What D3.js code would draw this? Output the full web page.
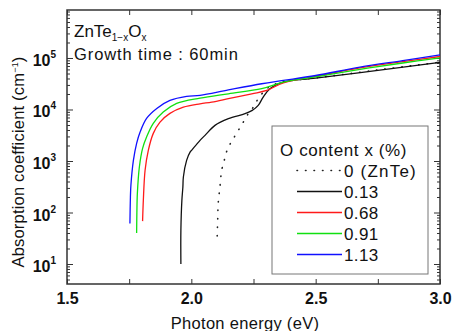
<!DOCTYPE html>
<html>
<head>
<meta charset="utf-8">
<script src="https://cdn.jsdelivr.net/npm/d3@7"></script>
<style>
  body { margin: 0; background: #fff; }
  text { font-family: "Liberation Sans", Arial, sans-serif; fill: #111; }
</style>
</head>
<body>
<script>
// data: [photon energy (eV), absorption coefficient (cm^-1)]
const znte = [[2.104,35],[2.106,71],[2.108,149],[2.115,313],[2.122,660],[2.131,958],[2.139,1390],[2.153,2010],[2.169,2720],[2.189,3940],[2.209,5700],[2.229,8300],[2.249,11100],[2.269,16200],[2.296,23400],[2.323,29300],[2.37,34500],[2.5,41000],[2.75,58500],[3.0,83000]];
const x013 = [[1.958,10],[1.958,45],[1.962,173],[1.966,313],[1.968,490],[1.981,1030],[1.995,1490],[2.001,1610],[2.035,2520],[2.055,3150],[2.095,4920],[2.149,6640],[2.216,8300],[2.245,9600],[2.269,12000],[2.289,17400],[2.316,25300],[2.37,34000],[2.5,40600],[2.75,57400],[3.0,82000]];
const x068 = [[1.804,68],[1.807,173],[1.814,660],[1.827,1610],[1.847,3440],[1.874,5700],[1.914,8400],[1.968,11100],[2.035,12900],[2.082,13900],[2.149,16200],[2.243,20200],[2.303,23400],[2.37,33000],[2.5,44000],[2.678,64000],[2.85,85000],[3.0,107000]];
const x091 = [[1.780,40],[1.781,100],[1.783,237],[1.791,766],[1.804,1760],[1.82,2920],[1.847,5380],[1.887,8900],[1.941,13100],[2.035,16600],[2.149,20200],[2.283,25300],[2.37,34000],[2.5,43000],[2.678,60000],[2.85,80000],[3.0,101000]];
const x113 = [[1.753,61],[1.755,200],[1.757,338],[1.767,1030],[1.780,2200],[1.794,3650],[1.82,6720],[1.861,10500],[1.914,15000],[1.981,18000],[2.035,18800],[2.149,24000],[2.283,31600],[2.37,36600],[2.5,45700],[2.678,66400],[2.85,89000],[3.0,115000]];

const seriesNames = ["0 (ZnTe)", "0.13", "0.68", "0.91", "1.13"];
const seriesColors = ["#222", "#111", "#ff1a1a", "#10e010", "#1010ff"];
const seriesData = [znte, x013, x068, x091, x113];

const xTicks = [1.5, 1.75, 2.0, 2.25, 2.5, 2.75, 3.0];
const yExps = [1, 2, 3, 4, 5];

const width = 454, height = 331;
const pLeft = 67, pRight = 440, pTop = 10, pBottom = 284;

const svg = d3.select("body").append("svg")
  .attr("width", width)
  .attr("height", height);

const x = d3.scaleLinear().domain([1.5, 3.0]).range([pLeft, pRight]);
const y = d3.scaleLog().domain([4.09, 855000]).range([pBottom, pTop]);

// minor log ticks
const yMinor = [];
for (let e = 0; e <= 5; e++) {
  for (let m = 2; m <= 9; m++) {
    const v = m * Math.pow(10, e);
    if (v >= y.domain()[0] && v <= y.domain()[1]) yMinor.push(v);
  }
}
const yMajor = yExps.map(e => Math.pow(10, e));

// axes (ticks point inward)
const gx = svg.append("g").attr("transform", `translate(0,${pBottom})`)
  .call(d3.axisBottom(x).tickValues(xTicks).tickSize(-5).tickPadding(9)
    .tickFormat(d => (d * 2) % 1 === 0 ? d3.format(".1f")(d) : ""));
svg.append("g").attr("transform", `translate(0,${pTop})`)
  .call(d3.axisTop(x).tickValues(xTicks).tickSize(-5).tickFormat(""));

svg.append("g").attr("transform", `translate(${pLeft},0)`)
  .call(d3.axisLeft(y).tickValues(yMajor).tickSize(-6).tickFormat(""));
svg.append("g").attr("transform", `translate(${pLeft},0)`)
  .call(d3.axisLeft(y).tickValues(yMinor).tickSize(-3).tickFormat(""));
svg.append("g").attr("transform", `translate(${pRight},0)`)
  .call(d3.axisRight(y).tickValues(yMajor).tickSize(-6).tickFormat(""));
svg.append("g").attr("transform", `translate(${pRight},0)`)
  .call(d3.axisRight(y).tickValues(yMinor).tickSize(-3).tickFormat(""));

svg.selectAll(".domain").remove();
svg.selectAll(".tick line").attr("stroke", "#333").attr("stroke-width", 1);
gx.selectAll("text")
  .attr("font-size", 16)
  .attr("font-weight", "bold")
  .attr("font-family", "Liberation Sans, Arial, sans-serif")
  .attr("fill", "#111");

// y tick labels 10^n
const yl = svg.append("g").selectAll("text").data(yExps).enter().append("text")
  .attr("x", 56)
  .attr("y", d => y(Math.pow(10, d)) + 8)
  .attr("text-anchor", "end")
  .attr("font-size", 16)
  .attr("font-weight", "bold");
yl.append("tspan").text("10");
yl.append("tspan").attr("dy", -8).attr("font-size", 10).text(d => d);

// plot frame
svg.append("rect")
  .attr("x", pLeft).attr("y", pTop)
  .attr("width", pRight - pLeft).attr("height", pBottom - pTop)
  .attr("fill", "none").attr("stroke", "#333").attr("stroke-width", 1.5);

// curves
const line = d3.line()
  .x(d => x(d[0]))
  .y(d => y(d[1]))
  .curve(d3.curveCatmullRom.alpha(0.5));

svg.append("g").selectAll("path").data(seriesData).enter().append("path")
  .attr("d", line)
  .attr("fill", "none")
  .attr("stroke", (_, i) => seriesColors[i])
  .attr("stroke-width", (_, i) => i === 0 ? 1.6 : 1.3)
  .attr("stroke-linecap", (_, i) => i === 0 ? "round" : "butt")
  .attr("stroke-dasharray", (_, i) => i === 0 ? "0.5,8" : null);

// legend
const lg = svg.append("g");
lg.append("rect")
  .attr("x", 272).attr("y", 126)
  .attr("width", 156).attr("height", 148)
  .attr("fill", "#fff").attr("stroke", "#777").attr("stroke-width", 1);
lg.append("text").attr("x", 280).attr("y", 156)
  .attr("font-size", 17).attr("letter-spacing", 0.6).text("O content x (%)");
const rows = lg.selectAll("g.row").data(seriesNames).enter().append("g")
  .attr("transform", (_, i) => `translate(0,${170.5 + i * 21})`);
rows.append("line")
  .attr("x1", 297).attr("x2", 342).attr("y1", 0).attr("y2", 0)
  .attr("stroke", (_, i) => seriesColors[i])
  .attr("stroke-width", (_, i) => i === 0 ? 1.6 : 1.3)
  .attr("stroke-linecap", (_, i) => i === 0 ? "round" : "butt")
  .attr("stroke-dasharray", (_, i) => i === 0 ? "0.5,8" : null);
rows.append("text").attr("x", 344).attr("y", 6.5)
  .attr("font-size", 17).attr("letter-spacing", (_, i) => i === 0 ? 1.2 : 0.4)
  .text(d => d);

// annotation
const t1 = svg.append("text").attr("x", 74).attr("y", 37).attr("font-size", 17);
t1.append("tspan").text("ZnTe");
t1.append("tspan").attr("font-size", 10).attr("dy", 4).text("1−x");
t1.append("tspan").attr("dy", -4).text("O");
t1.append("tspan").attr("font-size", 10).attr("dy", 4).text("x");
svg.append("text").attr("x", 74).attr("y", 60).attr("font-size", 16.5)
  .attr("letter-spacing", 0.9)
  .text("Growth time : 60min");

// axis titles
svg.append("text")
  .attr("x", 245).attr("y", 329)
  .attr("text-anchor", "middle").attr("font-size", 16.5)
  .attr("letter-spacing", 0.3)
  .text("Photon energy (eV)");
const yt = svg.append("text")
  .attr("transform", "translate(24,162) rotate(-90)")
  .attr("text-anchor", "middle").attr("font-size", 16.5)
  .attr("letter-spacing", 0.2);
yt.append("tspan").text("Absorption coefficient (cm");
yt.append("tspan").attr("font-size", 9).attr("dy", -6).text("−1");
yt.append("tspan").attr("dy", 6).text(")");
</script>
</body>
</html>
